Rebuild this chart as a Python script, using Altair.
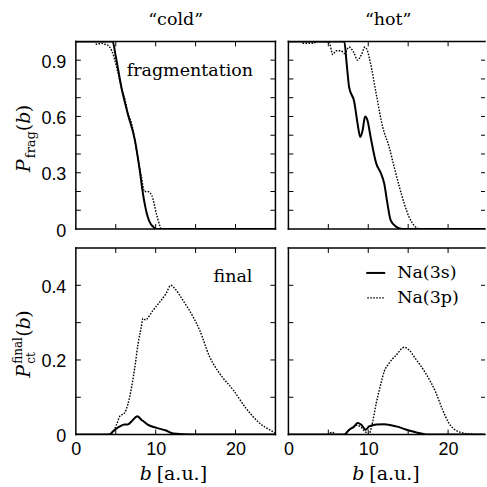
import altair as alt
import pandas as pd

# ---------------- data ----------------
# top-left: "cold", fragmentation
cold_frag_3s_b = [0, 4.6, 5.0, 5.7, 6.5, 7.4, 8.0, 8.4, 9.0, 9.4, 9.7, 10.0, 25]
cold_frag_3s_p = [1.0, 1.0, 0.92, 0.757, 0.615, 0.473, 0.314, 0.19, 0.065, 0.025, 0.012, 0.0, 0.0]
cold_frag_3p_b = [0, 2.3, 2.6, 3.2, 3.6, 4.0, 4.5, 5.3, 5.9, 6.1, 6.5, 7.0, 7.6, 8.2, 8.6, 9.0, 9.5, 10.1, 10.5, 10.7, 25]
cold_frag_3p_p = [1.0, 1.0, 0.985, 0.99, 0.985, 0.98, 0.95, 0.83, 0.72, 0.70, 0.62, 0.56, 0.42, 0.28, 0.2, 0.2, 0.18, 0.08, 0.02, 0.0, 0.0]

# top-right: "hot", fragmentation
hot_frag_3s_b = [0, 7.0, 7.3, 7.6, 8.25, 8.67, 9.0, 9.3, 9.6, 9.9, 10.3, 11.0, 11.6, 12.0, 12.4, 12.8, 13.5, 14.3, 25]
hot_frag_3s_p = [1.0, 1.0, 0.88, 0.757, 0.677, 0.56, 0.49, 0.527, 0.6, 0.58, 0.49, 0.35, 0.296, 0.243, 0.137, 0.048, 0.012, 0.0, 0.0]
hot_frag_3p_b = [0, 1.6, 1.8, 3.2, 3.5, 5.1, 5.55, 5.96, 6.6, 7.0, 7.6, 8.2, 8.67, 9.1, 9.6, 9.9, 10.3, 11.0, 11.8, 12.6, 13.25, 13.9, 14.5, 15.1, 15.9, 16.5, 25]
hot_frag_3p_p = [1.0, 1.0, 0.99, 0.99, 1.0, 0.995, 0.93, 0.95, 0.95, 0.935, 0.97, 0.94, 0.9, 0.926, 0.97, 0.95, 0.88, 0.72, 0.545, 0.44, 0.33, 0.225, 0.137, 0.065, 0.012, 0.0, 0.0]

# bottom-left: "cold", final charge transfer
cold_final_3s_b = [0, 4.2, 4.67, 5.5, 6.1, 6.5, 7.0, 7.7, 8.2, 9.0, 10.1, 11.3, 12.2, 14.7, 25]
cold_final_3s_p = [0, 0, 0.009, 0.022, 0.027, 0.027, 0.036, 0.049, 0.04, 0.027, 0.018, 0.011, 0.003, 0, 0]
cold_final_3p_b = [0, 3.8, 4.5, 5.1, 5.5, 6.1, 6.5, 7.0, 7.4, 7.8, 8.2, 8.4, 8.75, 8.9, 9.67, 10.5, 11.3, 11.9, 12.4, 13.4, 14.7, 15.5, 16.75, 18.0, 19.7, 21.3, 23.0, 24.25, 25]
cold_final_3p_p = [0, 0, 0.004, 0.027, 0.049, 0.058, 0.08, 0.129, 0.182, 0.244, 0.289, 0.311, 0.307, 0.31, 0.333, 0.355, 0.378, 0.40, 0.391, 0.36, 0.315, 0.28, 0.209, 0.164, 0.12, 0.071, 0.031, 0.013, 0.004]

# bottom-right: "hot", final charge transfer
hot_final_3s_b = [0, 7.0, 7.6, 8.25, 8.67, 9.1, 9.7, 10.1, 11.0, 12.0, 13.5, 15.1, 16.8, 17.6, 25]
hot_final_3s_p = [0, 0, 0.013, 0.022, 0.031, 0.027, 0.013, 0.022, 0.027, 0.028, 0.022, 0.011, 0.002, 0, 0]
hot_final_3p_b = [0, 5.0, 5.1, 5.5, 5.96, 7.0, 7.2, 7.8, 8.5, 9.1, 9.6, 10.1, 10.4, 11.0, 11.6, 12.0, 12.6, 13.5, 14.5, 15.1, 15.9, 17.2, 18.5, 19.3, 20.1, 21.2, 22.6, 24.6, 25]
hot_final_3p_p = [0, 0, 0.002, 0.006, 0, 0, 0.004, 0.015, 0.025, 0.02, 0.008, 0.002, 0.02, 0.084, 0.138, 0.169, 0.191, 0.213, 0.234, 0.227, 0.204, 0.164, 0.111, 0.067, 0.031, 0.009, 0.002, 0, 0]

# axes / ticks / labels
x_ticks = [5, 10, 15, 20]
x_labels = [0, 10, 20]
frag_y_ticks = [0.1, 0.2, 0.3, 0.4, 0.5, 0.6, 0.7, 0.8, 0.9]
frag_y_labels = [0, 0.3, 0.6, 0.9]
final_y_ticks = [0.1, 0.2, 0.3, 0.4]
final_y_labels = [0, 0.2, 0.4]
column_titles = ["\u201ccold\u201d", "\u201chot\u201d"]
series_names = ["Na(3s)", "Na(3p)"]

SERIF = "DejaVu Serif"
SANS = "Liberation Sans"
FS = 17.5

WL, WR = 200, 197
HT, HB = 188, 187
XDOM_L = [0, 25]
XDOM_R = [0, 25 * WR / 200]
YDOM_T = [0, 1.0]
YDOM_B = [0, 0.5]

ONE = pd.DataFrame({"a": [0]})


def text(t, x, y, size=FS, italic=False, align="left", baseline="alphabetic", angle=0):
    kw = dict(text=t, font=SERIF, fontSize=size, align=align, baseline=baseline, color="black")
    if italic:
        kw["fontStyle"] = "italic"
    if angle:
        kw["angle"] = angle
    return alt.Chart(ONE).mark_text(**kw).encode(x=alt.value(x), y=alt.value(y))


def rule(x, x2, y, y2, dash=None, sw=1.5):
    kw = dict(color="black", strokeWidth=sw, strokeCap="square")
    if dash:
        kw["strokeDash"] = dash
        kw["strokeCap"] = "butt"
    return alt.Chart(ONE).mark_rule(**kw).encode(
        x=alt.value(x), x2=alt.value(x2), y=alt.value(y), y2=alt.value(y2))


def panel(W, H, xdom, ydom, s_b, s_p, d_b, d_p, yticks, ylabels, xlabels, right_border, extras):
    xs = alt.Scale(domain=xdom, nice=False, zero=False)
    ys = alt.Scale(domain=ydom, nice=False, zero=False)
    if xlabels:
        xaxis = alt.Axis(values=xlabels, ticks=False, tickSize=0, domain=False, grid=False,
                         labelFont=SANS, labelFontSize=18, labelPadding=6, labelColor="black",
                         title=None, labelFlush=False, labelOverlap=False)
    else:
        xaxis = None
    if ylabels:
        yaxis = alt.Axis(values=ylabels, ticks=False, tickSize=0, domain=False, grid=False,
                         labelFont=SANS, labelFontSize=18, labelPadding=10, labelColor="black",
                         title=None, labelFlush=False, labelOverlap=False, labelOffset=2,
                         labelExpr="datum.value == 0 ? '0' : format(datum.value, '.1f')")
    else:
        yaxis = None

    X = lambda f: alt.X(f, scale=xs, axis=xaxis)
    Y = lambda f: alt.Y(f, scale=ys, axis=yaxis)

    solid = alt.Chart(pd.DataFrame({"b": s_b, "p": s_p})).mark_line(
        color="black", strokeWidth=2, clip=True, interpolate="monotone").encode(x=X("b:Q"), y=Y("p:Q"))
    dotted = alt.Chart(pd.DataFrame({"b": d_b, "p": d_p})).mark_line(
        color="black", strokeWidth=1.4, strokeDash=[1.6, 1.4], clip=True,
        interpolate="monotone").encode(x=X("b:Q"), y=Y("p:Q"))

    xt = pd.DataFrame({"b": x_ticks})
    yt = pd.DataFrame({"p": yticks})
    tl = 5
    xtick_top = alt.Chart(xt).mark_rule(color="black", strokeWidth=1).encode(
        x=X("b:Q"), y=alt.value(0), y2=alt.value(tl))
    xtick_bot = alt.Chart(xt).mark_rule(color="black", strokeWidth=1).encode(
        x=X("b:Q"), y=alt.value(H), y2=alt.value(H - tl))
    ytick_l = alt.Chart(yt).mark_rule(color="black", strokeWidth=1).encode(
        y=Y("p:Q"), x=alt.value(0), x2=alt.value(tl))
    x2r = W - tl if right_border else W - tl + 1
    ytick_r = alt.Chart(yt).mark_rule(color="black", strokeWidth=1).encode(
        y=Y("p:Q"), x=alt.value(W), x2=alt.value(x2r))

    borders = [rule(0, W, 0, 0), rule(0, W, H, H), rule(0, 0, 0, H)]
    if right_border:
        borders.append(rule(W, W, 0, H))

    layers = [solid, dotted, xtick_top, xtick_bot, ytick_l, ytick_r] + borders + extras
    return alt.layer(*layers).properties(width=W, height=H)


# ---- annotations ----
anchor = alt.Chart(ONE).mark_rect(opacity=0).encode(
    x=alt.value(-76), x2=alt.value(-70), y=alt.value(-41), y2=alt.value(-35))

# y-title top: P_frag(b)  (rotated)
bx = -46
ytitle_top = [
    text("P", bx, 131, 19, italic=True, angle=270),
    text("frag", bx + 5, 117, 13, angle=270),
    text("(", bx, 90, 19, angle=270),
    text("b", bx, 82.5, 19, italic=True, angle=270),
    text(")", bx, 71, 19, angle=270),
]
# y-title bottom: P_ct^final(b)
ytitle_bot = [
    text("P", bx, 130, 19, italic=True, angle=270),
    text("final", bx - 8, 116, 12, angle=270),
    text("ct", bx + 5, 116, 12, angle=270),
    text("(", bx, 89, 19, angle=270),
    text("b", bx, 81.5, 19, italic=True, angle=270),
    text(")", bx, 70, 19, angle=270),
]


def xtitle(W, H):
    return [text("b", 64, H + 45, 19, italic=True), text("[a.u.]", 81, H + 45, 19)]


tl_extra = [anchor, text(column_titles[0], 100, -16, align="center"),
            text("fragmentation", 51, 35)] + ytitle_top
tr_extra = [text(column_titles[1], 100, -16, align="center")]
bl_extra = [text("final", 138, 34)] + ytitle_bot + xtitle(WL, HB)
br_extra = [
    rule(79, 96, 25, 25, sw=2),
    text(series_names[0], 109, 25, baseline="middle"),
    rule(79, 96, 50, 50, dash=[1.6, 1.4], sw=1.4),
    text(series_names[1], 109, 50, baseline="middle"),
] + xtitle(WR, HB)

tl = panel(WL, HT, XDOM_L, YDOM_T, cold_frag_3s_b, cold_frag_3s_p, cold_frag_3p_b, cold_frag_3p_p,
           frag_y_ticks, frag_y_labels, None, True, tl_extra)
tr = panel(WR, HT, XDOM_R, YDOM_T, hot_frag_3s_b, hot_frag_3s_p, hot_frag_3p_b, hot_frag_3p_p,
           frag_y_ticks, None, None, False, tr_extra)
bl = panel(WL, HB, XDOM_L, YDOM_B, cold_final_3s_b, cold_final_3s_p, cold_final_3p_b, cold_final_3p_p,
           final_y_ticks, final_y_labels, x_labels, True, bl_extra)
br = panel(WR, HB, XDOM_R, YDOM_B, hot_final_3s_b, hot_final_3s_p, hot_final_3p_b, hot_final_3p_p,
           final_y_ticks, None, x_labels, False, br_extra)

chart = alt.concat(
    tl, tr, bl, br, columns=2,
    spacing={"row": 19, "column": 13}, bounds="flush", align="each",
).properties(padding=0, background="white").configure_view(stroke=None)

chart.save("out.html", embed_options={"renderer": "svg", "actions": False})
